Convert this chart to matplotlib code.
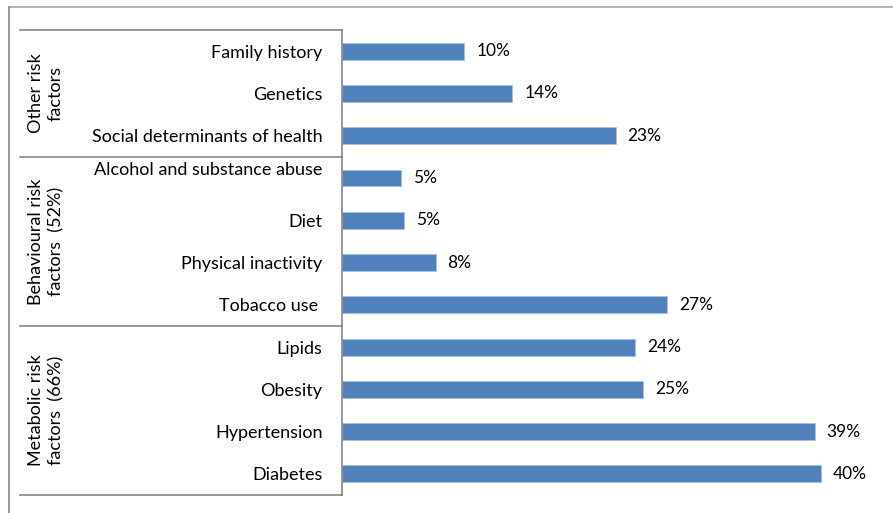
import matplotlib
matplotlib.use('Agg')
import matplotlib.pyplot as plt
from matplotlib.lines import Line2D
from matplotlib.transforms import blended_transform_factory, ScaledTranslation
import numpy as np

# risk factors, listed top to bottom as in the chart
factors = ['Family history', 'Genetics', 'Social determinants of health',
           'Alcohol and substance abuse', 'Diet', 'Physical inactivity',
           'Tobacco use ',
           'Lipids', 'Obesity', 'Hypertension', 'Diabetes']
# share (%); labels show rounded values
shares = [10.2, 14.2, 22.8, 4.9, 5.2, 7.8, 27.1, 24.4, 25.1, 39.4, 39.9]

groups = ['Other risk\nfactors', 'Behavioural risk\nfactors  (52%)',
          'Metabolic risk\nfactors  (66%)']
group_sizes = [3, 4, 4]

plt.rcParams['font.family'] = ['Lato', 'DejaVu Sans']
FS = 13
GRAY = '#868686'
BLUE = '#4F81BD'

W, H = 893, 513
fig = plt.figure(figsize=(W / 100, H / 100), dpi=100)
ax = fig.add_axes([342 / W, 18 / H, 551 / W, 465 / H])

y = np.arange(len(factors))
ax.barh(y, shares, height=0.4, color=BLUE, edgecolor='#A7C0DE', linewidth=0.6)
ax.set_ylim(len(factors) - 0.5, -0.5)
ax.set_xlim(0, 551 / 12.0)

for yi, v in zip(y, shares):
    ax.annotate(f'{v:.0f}%', (v, yi), xytext=(12, 0), textcoords='offset pixels',
                va='center', ha='left', fontsize=12.5, color='black')

ax.set_yticks(y)
ax.set_yticklabels(factors, fontsize=FS)
ax.tick_params(axis='y', length=0, pad=14)
ax.set_xticks([])
for s in ['top', 'right', 'bottom']:
    ax.spines[s].set_visible(False)
ax.spines['left'].set_color(GRAY)
ax.spines['left'].set_linewidth(1.2)

# the wrapped label sits higher than its bar in the original
lab = ax.get_yticklabels()[3]
lab.set_transform(lab.get_transform() + ScaledTranslation(0, 7 / 72, fig.dpi_scale_trans))

# group separators and rotated group names
trans = blended_transform_factory(ax.transAxes, ax.transData)
x_sep = (20 - 342) / 551
x_grp = (46 - 342) / 551
bounds = np.concatenate([[0], np.cumsum(group_sizes)]) - 0.5
for b in bounds:
    ax.plot([x_sep, 0], [b, b], transform=trans, color=GRAY, lw=1.2, clip_on=False)
for g, lo, hi in zip(groups, bounds[:-1], bounds[1:]):
    ax.text(x_grp, (lo + hi) / 2, g, transform=trans, rotation=90, ha='center',
            va='center', fontsize=FS, linespacing=1.3, multialignment='center')

# chart frame
fig.add_artist(Line2D([9 / W, 1], [1 - 7 / H, 1 - 7 / H], color='#A6A6A6', lw=1.2))
fig.add_artist(Line2D([9 / W, 9 / W], [0, 1 - 7 / H], color=GRAY, lw=1.2))

fig.savefig('out.png', dpi=100)
